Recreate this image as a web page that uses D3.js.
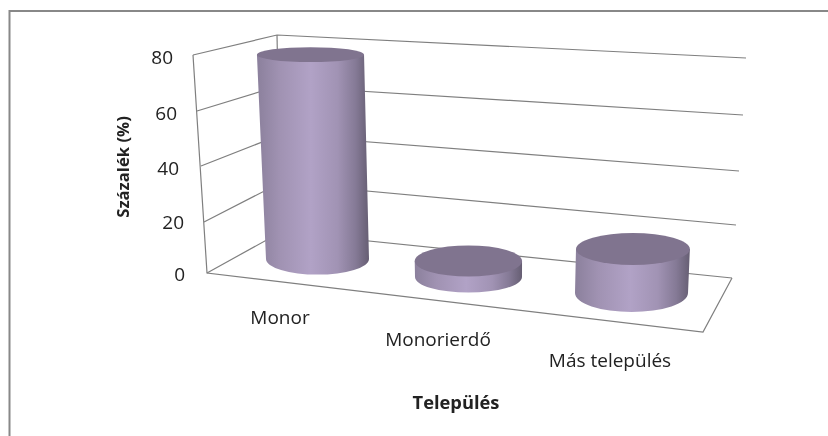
<!DOCTYPE html>
<html><head><meta charset="utf-8">
<script src="https://cdn.jsdelivr.net/npm/d3@7"></script>
<style>html,body{margin:0;padding:0;background:#fff}svg{display:block;filter:blur(0.35px)}text{font-family:"Open Sans",sans-serif;fill:#222}</style>
</head><body><svg id="c" width="828" height="436"></svg>
<script>
const categories = ["Monor", "Monorierdő", "Más település"];
const values = [78, 6, 16];
const valueTicks = [0, 20, 40, 60, 80];
const axisTitleX = "Település";
const axisTitleY = "Százalék (%)";

const svg = d3.select("#c");
const W = 828, H = 436;
const idx = categories.map((_, i) => i);

// Perspective projection of the 3D box: each wall edge maps value -> screen
const edge = (xs, ys) => ({
  x: d3.scaleLinear().domain(valueTicks).range(xs),
  y: d3.scaleLinear().domain(valueTicks).range(ys)
});
const frontLeft = edge([207, 204, 201, 197, 193], [273, 222, 166, 111, 55]);
const backLeft  = edge([281, 280, 280, 279, 277], [232, 183, 135, 86, 35]);
const backRight = edge([732, 736, 739, 743, 746], [278, 225, 171, 115, 58]);
const floorFront = [703, 332];

// Cylinder projection, by category position
const catX   = d3.scaleLinear().domain(idx).range([317.5, 468.5, 631.5]);
const catY   = d3.scaleLinear().domain(idx).range([259, 277, 293]);
const catRx  = d3.scaleLinear().domain(idx).range([51.5, 53.5, 56.5]);
const catPx  = d3.scaleLinear().domain(idx).range([2.62, 2.67, 2.75]);
const catLean= d3.scaleLinear().domain(idx).range([-0.09, -0.02, 0.09]);
const ryAt   = d3.scaleLinear().domain([55, 249, 262, 277, 293]).range([7.5, 16, 15.5, 15.5, 19]);

// Frame
svg.append("path").attr("d", `M9.5,${H}V11H${W}`).attr("fill", "none").attr("stroke", "#888").attr("stroke-width", 2);

// Walls & floor
const grid = svg.append("g").attr("fill", "none").attr("stroke", "#7f7f7f").attr("stroke-width", 1.2);
const line = d3.line();
valueTicks.forEach(v => {
  grid.append("path").attr("d", line([[frontLeft.x(v), frontLeft.y(v)], [backLeft.x(v), backLeft.y(v)], [backRight.x(v), backRight.y(v)]]));
});
grid.append("path").attr("d", line([[frontLeft.x(80), frontLeft.y(80)], [frontLeft.x(0), frontLeft.y(0)], floorFront, [backRight.x(0), backRight.y(0)]]));
grid.append("path").attr("d", line([[backLeft.x(80), backLeft.y(80)], [backLeft.x(0), backLeft.y(0)]]));

// Gradients
const defs = svg.append("defs");
const grad = defs.append("linearGradient").attr("id", "side");
[[0, "#8b809c"], [0.2, "#a092b2"], [0.48, "#b1a2c6"], [0.72, "#a193b4"], [0.88, "#857a96"], [1, "#665e73"]]
  .forEach(([o, c]) => grad.append("stop").attr("offset", o).attr("stop-color", c));

// Cylinders
const cyl = svg.append("g");
values.forEach((v, i) => {
  const bx = catX(i), by = catY(i), brx = catRx(i);
  const tyv = by - v * catPx(i);
  const txv = bx + v * catLean(i);
  const trx = brx + 0.01 * (by - tyv);
  const bry = ryAt(by), tryv = ryAt(tyv);
  cyl.append("path")
    .attr("d", `M${txv - trx},${tyv}L${bx - brx},${by}A${brx},${bry} 0 0 0 ${bx + brx},${by}L${txv + trx},${tyv}Z`)
    .attr("fill", "url(#side)");
  cyl.append("ellipse").attr("cx", txv).attr("cy", tyv).attr("rx", trx).attr("ry", tryv).attr("fill", "#80748f");
});

// Value labels
const valueLabelX = d3.scaleLinear().domain(valueTicks).range([185, 184, 179, 177, 173]);
const valueLabelY = d3.scaleLinear().domain(valueTicks).range([274, 222, 168, 113, 57]);
svg.append("g").selectAll("text").data(valueTicks).join("text")
  .attr("x", valueLabelX).attr("y", valueLabelY)
  .attr("dy", "0.35em").attr("text-anchor", "end").attr("font-size", 19).text(d => d);

// Category labels
const labelX = d3.scaleLinear().domain(idx).range([280, 438, 610]);
const labelY = d3.scaleLinear().domain(idx).range([324, 346, 367]);
svg.append("g").selectAll("text").data(categories).join("text")
  .attr("x", (d, i) => labelX(i)).attr("y", (d, i) => labelY(i))
  .attr("text-anchor", "middle").attr("font-size", 19).text(d => d);

// Axis titles
svg.append("text").attr("x", 456).attr("y", 409).attr("text-anchor", "middle")
  .attr("font-size", 18.3).attr("font-weight", "bold").attr("fill", "#111").text(axisTitleX);
svg.append("text").attr("transform", "translate(129,167) rotate(-90)").attr("text-anchor", "middle")
  .attr("font-size", 16.7).attr("font-weight", "bold").attr("fill", "#111").text(axisTitleY);
</script></body></html>
